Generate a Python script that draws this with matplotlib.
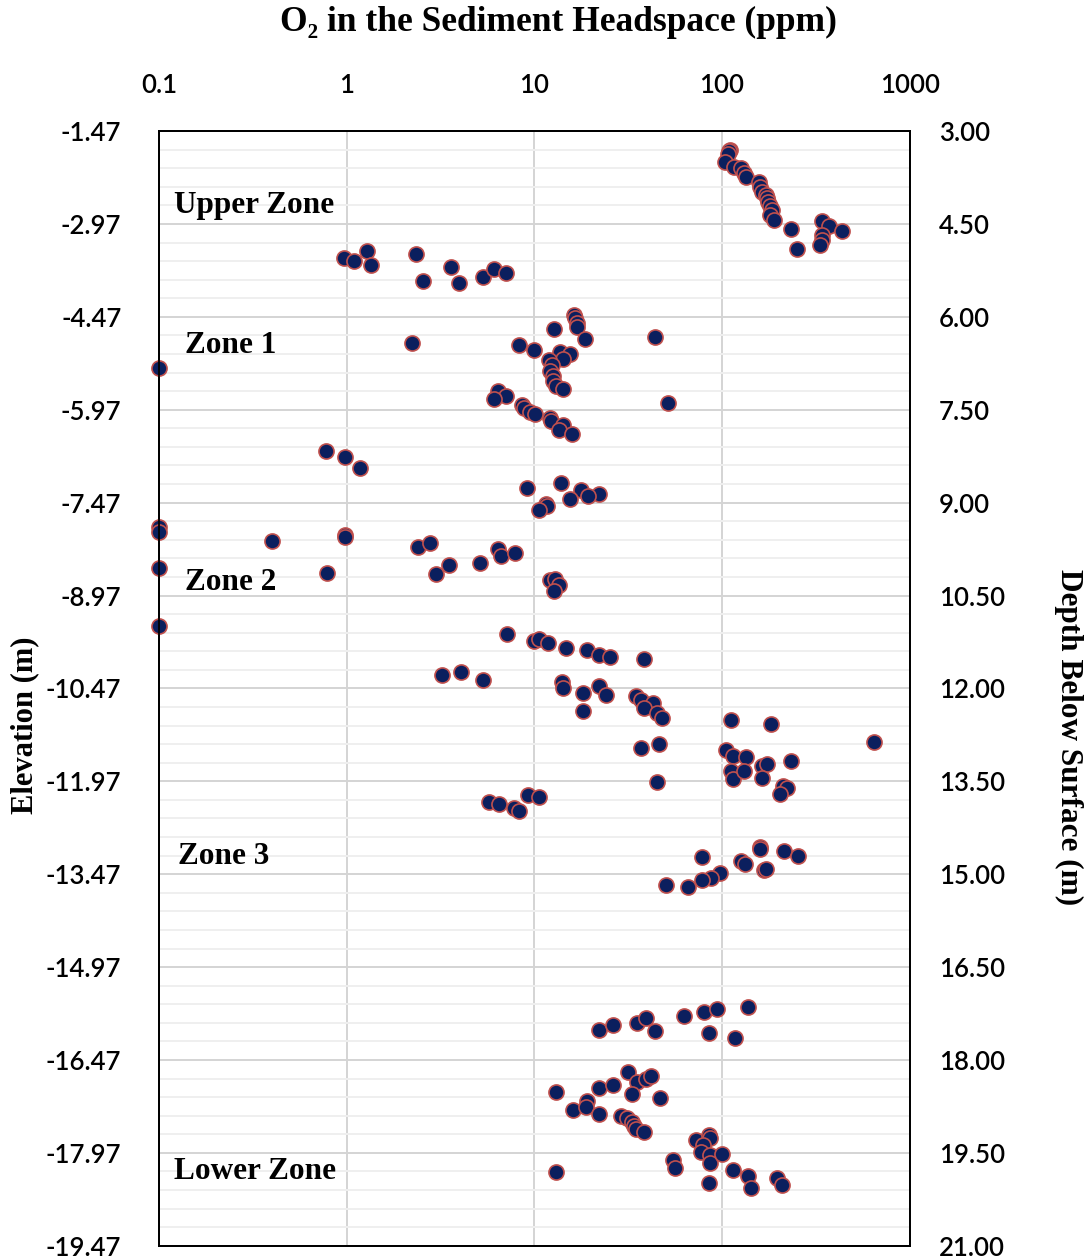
import numpy as np
import matplotlib
matplotlib.use("Agg")
import matplotlib.pyplot as plt
from matplotlib.ticker import NullLocator, FixedLocator

# O2 concentration (ppm) in sediment headspace and sample depth below surface (m)
o2_ppm = [
    # Upper zone
    110, 109, 108, 104, 116, 127, 131, 135, 157, 160, 164, 171, 174, 176, 180, 185,
    181, 189, 234, 252, 339, 372, 438, 339, 339, 332,
    0.97, 1.09, 1.28, 1.35, 2.33, 2.54, 3.62, 3.95, 5.30, 6.11, 7.03,
    # Zone 1
    2.22, 0.1, 8.24, 10.0, 12.7, 16.2, 16.5, 16.9, 16.8, 18.7, 43.8, 13.7, 15.5, 14.2,
    12.0, 12.4, 12.1, 12.5, 12.6, 13.1, 14.2, 51.6, 6.41, 7.05, 6.11, 8.65, 8.79, 9.46,
    10.1, 12.1, 12.2, 14.2, 13.6, 15.9,
    0.78, 0.98, 1.18, 9.16, 13.9, 17.7, 22.1, 19.4, 15.5, 11.5, 11.7, 10.6,
    # Zone 2
    0.1, 0.1, 0.40, 0.98, 0.98, 2.40, 2.77, 6.41, 6.61, 7.85, 3.52, 2.99, 5.12, 0.1,
    0.79, 12.1, 12.9, 13.6, 12.7, 0.1,
    7.18, 9.97, 10.6, 11.8, 14.7, 19.2, 22.1, 25.2, 38.5, 3.24, 4.05, 5.32, 14.1, 14.2,
    18.2, 22.1, 24.1, 18.2, 35.0, 37.2, 42.9, 38.5, 44.8, 47.8, 111, 182, 643, 37.2,
    46.3, 45.1, 105, 115, 135, 163, 173, 232, 111, 115, 131, 163, 211, 222, 204,
    5.74, 6.47, 9.20, 10.6, 7.80, 8.27,
    # Zone 3
    159, 159, 213, 254, 78.0, 127, 132, 168, 172, 97.3, 87.1, 78.0, 50.4, 65.9,
    # Lower zone
    22.1, 26.1, 35.3, 39.3, 43.8, 62.5, 80.0, 94.6, 138, 85.0, 117,
    31.4, 13.1, 22.1, 26.1, 35.3, 39.6, 42.1, 33.3, 46.6, 16.0, 19.1, 18.8, 22.1, 28.8,
    31.2, 33.0, 33.9, 35.0, 38.3, 73.1, 85.0, 86.8, 79.3, 77.7, 86.0, 86.8, 100, 54.5,
    56.0, 13.1, 115, 138, 142, 196, 210, 85.0,
]

depth_m = [
    # Upper zone
    3.30, 3.33, 3.37, 3.50, 3.58, 3.59, 3.68, 3.75, 3.83, 3.90, 3.98, 4.03, 4.08, 4.14,
    4.21, 4.27, 4.35, 4.43, 4.58, 4.91, 4.46, 4.54, 4.62, 4.68, 4.76, 4.84,
    5.05, 5.10, 4.94, 5.16, 4.98, 5.42, 5.20, 5.45, 5.35, 5.23, 5.30,
    # Zone 1
    6.42, 6.82, 6.46, 6.53, 6.20, 5.97, 6.02, 6.10, 6.17, 6.35, 6.32, 6.56, 6.60, 6.68,
    6.69, 6.77, 6.88, 6.96, 7.04, 7.12, 7.17, 7.39, 7.19, 7.28, 7.32, 7.43, 7.48, 7.54,
    7.57, 7.63, 7.69, 7.74, 7.82, 7.90,
    8.17, 8.26, 8.44, 8.77, 8.68, 8.79, 8.86, 8.90, 8.94, 9.03, 9.06, 9.12,
    # Zone 2
    9.40, 9.48, 9.62, 9.53, 9.56, 9.72, 9.66, 9.75, 9.87, 9.81, 10.01, 10.16, 9.98, 10.05,
    10.13, 10.25, 10.23, 10.33, 10.43, 10.99,
    11.12, 11.23, 11.20, 11.27, 11.35, 11.38, 11.46, 11.50, 11.53, 11.78, 11.74, 11.86,
    11.89, 12.00, 12.07, 11.96, 12.11, 12.36, 12.13, 12.19, 12.24, 12.32, 12.39, 12.47,
    12.51, 12.57, 12.86, 12.97, 12.90, 13.51, 13.00, 13.09, 13.11, 13.25, 13.22, 13.18,
    13.34, 13.47, 13.33, 13.44, 13.58, 13.61, 13.70,
    13.83, 13.87, 13.72, 13.76, 13.93, 13.98,
    # Zone 3
    14.56, 14.60, 14.63, 14.70, 14.73, 14.79, 14.84, 14.94, 14.91, 14.98, 15.06, 15.10,
    15.17, 15.21,
    # Lower zone
    17.51, 17.43, 17.40, 17.33, 17.53, 17.29, 17.22, 17.18, 17.15, 17.57, 17.65,
    18.19, 18.51, 18.45, 18.40, 18.36, 18.30, 18.26, 18.55, 18.62, 18.80, 18.67, 18.76,
    18.88, 18.90, 18.94, 19.00, 19.07, 19.12, 19.17, 19.30, 19.21, 19.26, 19.38, 19.48,
    19.54, 19.67, 19.52, 19.61, 19.74, 19.81, 19.78, 19.87, 20.06, 19.90, 20.02, 19.99,
]

# Axis ticks
x_ticks = [0.1, 1, 10, 100, 1000]
x_tick_labels = ["0.1", "1", "10", "100", "1000"]
depth_ticks = [3.0, 4.5, 6.0, 7.5, 9.0, 10.5, 12.0, 13.5, 15.0, 16.5, 18.0, 19.5, 21.0]
depth_tick_labels = ["3.00", "4.50", "6.00", "7.50", "9.00", "10.50", "12.00",
                     "13.50", "15.00", "16.50", "18.00", "19.50", "21.00"]
elevation_tick_labels = ["-1.47", "-2.97", "-4.47", "-5.97", "-7.47", "-8.97", "-10.47",
                         "-11.97", "-13.47", "-14.97", "-16.47", "-17.97", "-19.47"]

zone_names = ["Upper Zone", "Zone 1", "Zone 2", "Zone 3", "Lower Zone"]

SERIF = ["Liberation Serif", "DejaVu Serif"]
SANS = ["Lato", "DejaVu Sans"]

fig = plt.figure(figsize=(10.91, 12.60), dpi=100)
ax = fig.add_axes([0.1457, 0.0113, 0.6881, 0.8847])

ax.set_xscale("log")
ax.set_xlim(0.1, 1000)
ax.set_ylim(21.0, 3.0)

# gridlines
ax.xaxis.set_major_locator(FixedLocator(x_ticks))
ax.xaxis.set_minor_locator(NullLocator())
ax.set_yticks(depth_ticks)
ax.set_yticks(np.arange(3.0, 21.0001, 0.3), minor=True)
ax.grid(which="major", axis="both", color="#D4D4D4", linewidth=1.4, zorder=0)
ax.grid(which="minor", axis="y", color="#EFEFEF", linewidth=1.4, zorder=0)
ax.set_axisbelow(True)

ax.scatter(o2_ppm, depth_m, s=118, facecolor="#0B1F5E", edgecolor="#C0504D",
           linewidth=1.2, zorder=3, clip_on=False)

# top x axis
ax.xaxis.tick_top()
ax.set_xticklabels(x_tick_labels)
ax.tick_params(axis="x", which="both", length=0, pad=24)
ax.tick_params(axis="y", which="both", length=0, pad=27)
ax.set_yticklabels(elevation_tick_labels)
for lbl in ax.get_xticklabels() + ax.get_yticklabels():
    lbl.set_family(SANS)
    lbl.set_fontsize(18.5)
    lbl.set_fontweight("semibold")

# right axis: depth below surface
ax2 = ax.twinx()
ax2.set_ylim(21.0, 3.0)
ax2.set_yticks(depth_ticks)
ax2.set_yticks([], minor=True)
ax2.set_yticklabels(depth_tick_labels)
ax2.tick_params(axis="y", length=0, pad=21)
for lbl in ax2.get_yticklabels():
    lbl.set_family(SANS)
    lbl.set_fontsize(18.5)
    lbl.set_fontweight("semibold")

for a in (ax, ax2):
    for sp in a.spines.values():
        sp.set_color("black")
        sp.set_linewidth(1.3)

# zone labels
zone_pos = [(0.020, 0.9328), (0.0346, 0.8075), (0.0346, 0.5952), (0.0253, 0.349), (0.020, 0.0669)]
for name, (zx, zy) in zip(zone_names, zone_pos):
    ax.text(zx, zy, name, transform=ax.transAxes, ha="left", va="center",
            family=SERIF, fontweight="bold", fontsize=22.5, zorder=4)

fig.text(0.5115, 0.9825, "O\u2082 in the Sediment Headspace (ppm)", ha="center", va="center",
         family=SERIF, fontweight="bold", fontsize=25.5)
fig.text(0.023, 0.4245, "Elevation (m)", rotation=90, ha="center", va="center",
         family=SERIF, fontweight="bold", fontsize=22)
fig.text(0.979, 0.415, "Depth Below Surface (m)", rotation=270, ha="center", va="center",
         family=SERIF, fontweight="bold", fontsize=22.5)

fig.savefig("out.png", dpi=100)
